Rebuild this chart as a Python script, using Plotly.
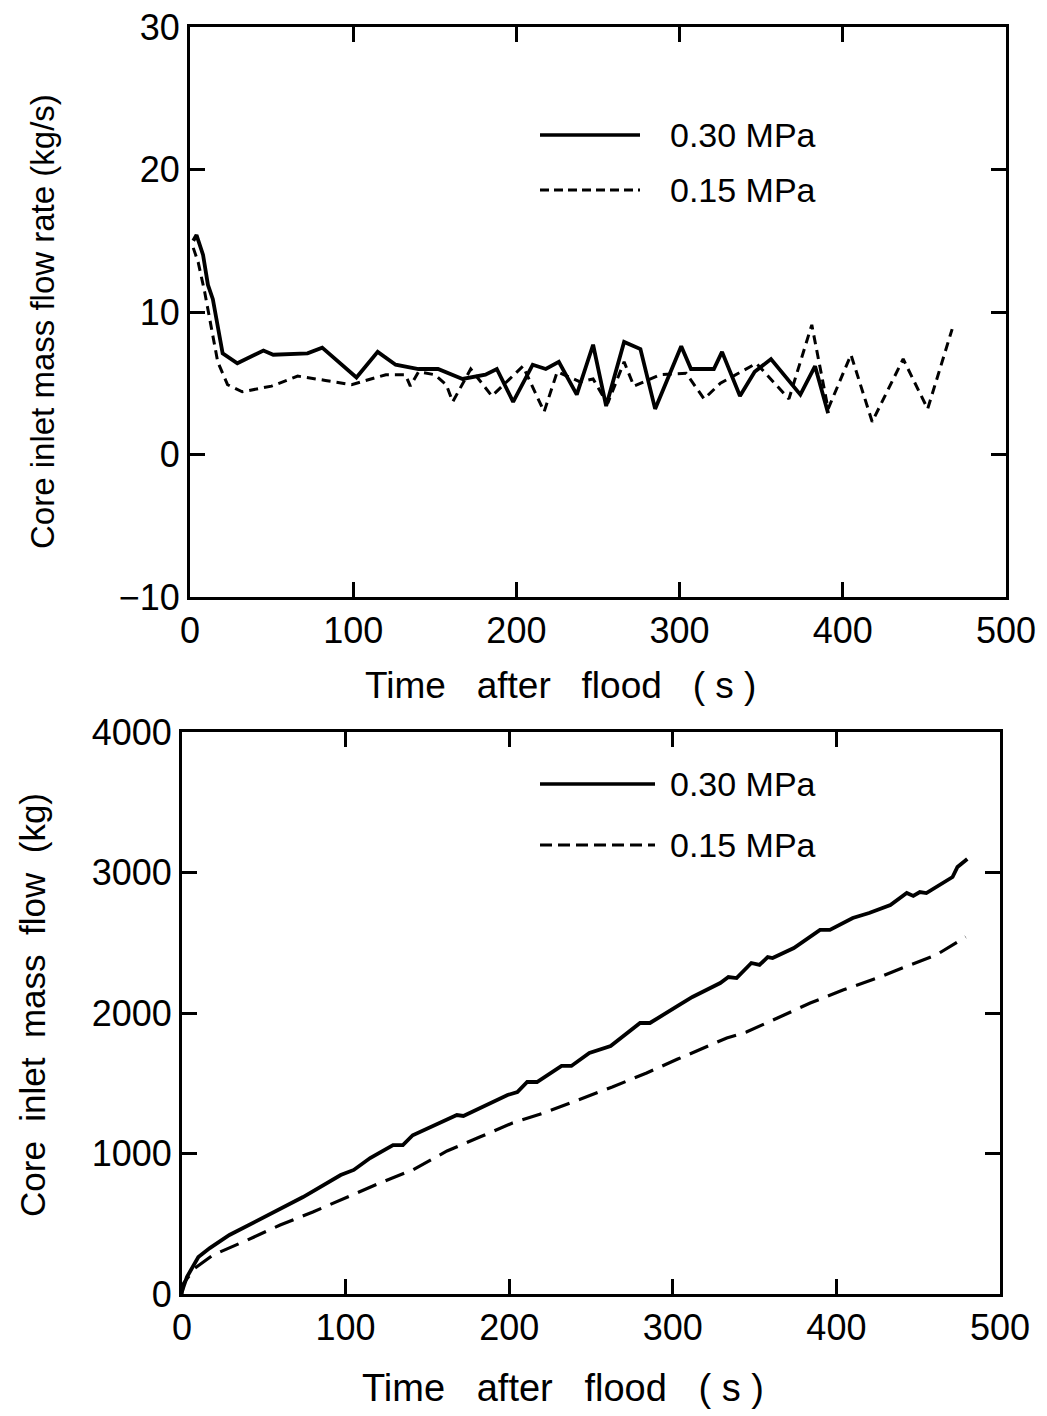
import plotly.graph_objects as go

# ---- Top panel: core inlet mass flow rate (kg/s) ----
t_rate_030 = [2, 4, 8, 11, 14, 20, 29, 38, 45, 51, 72, 81, 102, 115, 126, 140, 152, 167, 181, 188,
              198, 210, 218, 226, 237, 247, 255, 266, 276, 285, 301, 307, 321, 326, 337, 346, 356,
              374, 383, 391]
v_rate_030 = [15.0, 15.4, 14.0, 11.9, 10.9, 7.1, 6.4, 6.9, 7.3, 7.0, 7.1, 7.5, 5.4, 7.2, 6.3, 6.0, 6.0,
              5.3, 5.6, 6.0, 3.7, 6.3, 6.0, 6.5, 4.2, 7.7, 3.4, 7.9, 7.4, 3.2, 7.6, 6.0, 6.0, 7.2, 4.1,
              5.8, 6.7, 4.2, 6.2, 2.9]

t_rate_015 = [2, 5, 9, 12, 17, 23, 32, 50, 66, 83, 99, 120, 132, 135, 140, 150, 157, 161, 172, 185,
              204, 217, 225, 239, 247, 253, 256, 266, 272, 288, 304, 315, 325, 347, 367, 381, 391,
              405, 418, 437, 452, 467]
v_rate_015 = [14.5, 13.5, 11.4, 9.5, 6.5, 4.9, 4.4, 4.8, 5.5, 5.2, 4.9, 5.6, 5.6, 4.8, 5.8, 5.6, 4.9,
              3.7, 6.0, 4.1, 6.2, 3.0, 5.8, 5.1, 5.3, 4.1, 3.6, 6.5, 4.8, 5.6, 5.7, 3.9, 5.0, 6.4,
              3.9, 9.1, 3.2, 7.0, 2.3, 6.7, 3.2, 8.8]

# ---- Bottom panel: cumulative core inlet mass flow (kg) ----
t_mass_030 = [0, 3, 10, 17, 29, 50, 74, 97, 105, 115, 129, 135, 141, 168, 172, 199, 205, 211, 217,
              232, 238, 249, 262, 280, 286, 304, 312, 329, 334, 339, 348, 353, 358, 361, 374, 390,
              396, 410, 420, 433, 443, 447, 451, 455, 471, 474, 480]
v_mass_030 = [20, 121, 263, 327, 420, 548, 690, 847, 883, 968, 1060, 1060, 1130, 1274, 1267, 1416,
              1438, 1509, 1509, 1623, 1623, 1715, 1765, 1929, 1929, 2057, 2114, 2213, 2256, 2249,
              2356, 2342, 2398, 2391, 2462, 2591, 2591, 2676, 2712, 2769, 2854, 2833, 2861, 2854,
              2968, 3039, 3096]

t_mass_015 = [0, 1, 8, 19, 40, 60, 80, 101, 121, 141, 162, 182, 202, 221, 239, 263, 284, 303, 333,
              345, 364, 384, 404, 425, 445, 461, 479]
v_mass_015 = [0, 78, 185, 278, 384, 491, 584, 690, 790, 883, 1018, 1117, 1217, 1288, 1367, 1473,
              1573, 1672, 1822, 1865, 1964, 2071, 2164, 2249, 2342, 2413, 2541]

series_names = ["0.30 MPa", "0.15 MPa"]
x_ticks = [0, 100, 200, 300, 400, 500]
y_ticks_rate = [-10, 0, 10, 20, 30]
y_ticks_mass = [0, 1000, 2000, 3000, 4000]

FONT = "Liberation Sans, Arial, sans-serif"
W, H = 1047, 1416

fig = go.Figure()
fig.add_trace(go.Scatter(x=t_rate_030, y=v_rate_030, mode="lines", name=series_names[0],
                         line=dict(color="black", width=3.8), xaxis="x", yaxis="y", showlegend=False))
fig.add_trace(go.Scatter(x=t_rate_015, y=v_rate_015, mode="lines", name=series_names[1],
                         line=dict(color="black", width=3.0, dash="9px,6px"), xaxis="x", yaxis="y",
                         showlegend=False))
fig.add_trace(go.Scatter(x=t_mass_030, y=v_mass_030, mode="lines", name=series_names[0],
                         line=dict(color="black", width=3.8), xaxis="x2", yaxis="y2", showlegend=False))
fig.add_trace(go.Scatter(x=t_mass_015, y=v_mass_015, mode="lines", name=series_names[1],
                         line=dict(color="black", width=3.2, dash="20px,10px"), xaxis="x2", yaxis="y2",
                         showlegend=False))

def px_x(p):
    return p / W

def px_y(p):
    return 1 - p / H

axis_common = dict(showgrid=False, zeroline=False, showline=True, linecolor="black", linewidth=2.8,
                   mirror="ticks", ticks="inside", ticklen=15, tickwidth=2.5, tickcolor="black",
                   automargin=False,
                   tickfont=dict(family=FONT, size=36, color="black"))

fig.update_layout(
    width=W, height=H, margin=dict(l=0, r=0, t=0, b=0, autoexpand=False),
    paper_bgcolor="white", plot_bgcolor="white",
    xaxis=dict(domain=[px_x(190), px_x(1006)], range=[0, 500], tickvals=x_ticks, anchor="y",
               **axis_common),
    yaxis=dict(domain=[px_y(597), px_y(27)], range=[-10, 30], tickvals=y_ticks_rate, anchor="x",
               **axis_common),
    xaxis2=dict(domain=[px_x(182), px_x(1000)], range=[0, 500], tickvals=x_ticks, anchor="y2",
                **axis_common),
    yaxis2=dict(domain=[px_y(1294), px_y(732)], range=[0, 4000], tickvals=y_ticks_mass, anchor="x2",
                **axis_common),
)

def label(text, xp, yp, size, angle=0, xanchor="center"):
    fig.add_annotation(text=text, x=px_x(xp), y=px_y(yp), xref="paper", yref="paper",
                       xanchor=xanchor, yanchor="middle", showarrow=False, textangle=angle,
                       font=dict(family=FONT, size=size, color="black"))

# axis titles
label("Time   after   flood   ( s )", 560, 685, 37)
label("Core inlet mass flow rate (kg/s)", 42, 322, 33, angle=-90)
label("Time   after   flood   ( s )", 563, 1388, 38)
label("Core  inlet  mass  flow  (kg)", 32, 1005, 35, angle=-90)

# legend keys
legend_rows = [
    (540, 640, 135, 668, 0, "solid", 3.5),
    (540, 640, 190, 668, 1, "9px,5px", 2.8),
    (540, 655, 784, 668, 0, "solid", 3.5),
    (540, 655, 845, 668, 1, "12px,6px", 2.8),
]
for x0, x1, yy, xt, si, dash, lw in legend_rows:
    fig.add_shape(type="line", xref="paper", yref="paper", x0=px_x(x0), x1=px_x(x1), y0=px_y(yy), y1=px_y(yy),
                  line=dict(color="black", width=lw, dash=dash))
    label(series_names[si], xt, yy, 34, xanchor="left")

fig.write_html("out.html")
